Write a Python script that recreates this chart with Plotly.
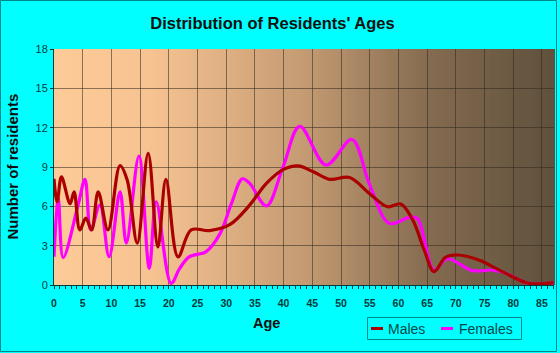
import plotly.graph_objects as go

# ---- data ----
male_age = [0, 0.55, 1.3, 2.8, 3.5, 4.5, 5.55, 6.55, 7.7, 9.4, 11.5, 12.75, 14.5, 16.4, 18.1,
            19.5, 21.6, 23.9, 27.1, 30.6, 34.0, 37.0, 39.9, 42.5, 45.1, 48.0, 51.5, 54.9,
            58.1, 60.4, 62.5, 64.5, 66.2, 68.2, 70.3, 74.0, 78.1, 82.7, 87.0]
male_val = [8.1, 6.35, 8.25, 6.2, 7.1, 4.2, 5.1, 4.2, 7.1, 4.2, 9.1, 8.0, 3.2, 10.05, 2.9,
            8.05, 2.15, 4.2, 4.15, 4.6, 6.05, 7.75, 8.8, 9.08, 8.65, 8.06, 8.2, 7.0,
            5.97, 6.18, 4.96, 2.67, 1.02, 2.1, 2.29, 1.9, 1.02, 0.13, 0.18]

female_age = [0, 0.75, 1.6, 4.2, 5.4, 6.4, 8.0, 9.6, 11.5, 12.6, 14.8, 16.6, 17.8, 20.4,
              21.9, 23.6, 26.5, 28.9, 30.9, 32.8, 34.1, 37.0, 39.9, 42.8, 47.4, 51.9,
              54.9, 58.4, 61.9, 63.3, 66.2, 68.5, 72.9, 76.4, 78.1, 82.7, 87.0]
female_val = [2.16, 6.6, 2.1, 6.1, 8.06, 4.2, 6.1, 2.16, 7.1, 3.2, 9.84, 1.27, 6.35, 0.13,
              1.27, 2.16, 2.55, 3.9, 6.2, 8.1, 7.75, 6.03, 9.0, 12.1, 9.15, 11.1,
              7.75, 4.7, 5.16, 5.08, 1.14, 2.0, 1.1, 1.14, 1.0, 0.13, 0.18]

series_names = ["Males", "Females"]
series_colors = ["#aa0000", "#ff00ff"]

x_ticks = list(range(0, 90, 5))
y_ticks = [0, 3, 6, 9, 12, 15, 18]

W, H = 560, 353
L, R, T, B = 54, 6, 49, 68
pw, ph = W - L - R, H - T - B

def px(x):
    return (x - L) / pw

def py(y):
    return 1 - (y - T) / ph

BG = "#00ffff"
EDGE = "#008888"
TXT = "#003c3c"
FONT = "Liberation Sans, Arial"

fig = go.Figure()
fig.add_trace(go.Scatter(x=female_age, y=female_val, name=series_names[1], mode="lines",
                         line=dict(color=series_colors[1], width=3.2, shape="spline", smoothing=1.0),
                         hoverinfo="skip", showlegend=False))
fig.add_trace(go.Scatter(x=male_age, y=male_val, name=series_names[0], mode="lines",
                         line=dict(color=series_colors[0], width=3.2, shape="spline", smoothing=1.0),
                         hoverinfo="skip", showlegend=False))

# gradient background (below gridlines)
stops = [(0.0, (253, 203, 152)), (0.2, (246, 194, 145)), (0.5, (196, 155, 115)),
         (0.75, (132, 107, 80)), (1.0, (95, 80, 60))]

def col(t):
    for (a, ca), (b, cb) in zip(stops[:-1], stops[1:]):
        if t <= b:
            f = (t - a) / (b - a)
            return "rgb(%d,%d,%d)" % tuple(round(ca[i] + (cb[i] - ca[i]) * f) for i in range(3))
    return "rgb(%d,%d,%d)" % stops[-1][1]

shapes = []
n = 125
for i in range(n):
    shapes.append(dict(type="rect", xref="paper", yref="paper", x0=i / n, x1=(i + 1) / n + 0.002,
                       y0=0, y1=1, fillcolor=col((i + 0.5) / n), line=dict(width=0), layer="below"))
# outer border
shapes.append(dict(type="rect", xref="paper", yref="paper",
                   x0=px(0.5), x1=px(W - 3.5), y0=py(H - 1.5), y1=py(0.5),
                   line=dict(color=EDGE, width=1), fillcolor="rgba(0,0,0,0)", layer="below"))

# manual legend
shapes.append(dict(type="rect", xref="paper", yref="paper",
                   x0=px(367.5), x1=px(521.5), y0=py(339.5), y1=py(317.5),
                   line=dict(color=EDGE, width=1), fillcolor="rgba(0,0,0,0)", layer="above"))
leg_line_x = [(371, 383), (441, 453)]
leg_text_x = [386, 457]
annotations = []
for name, c, (a, b), tx in zip(series_names, series_colors, leg_line_x, leg_text_x):
    shapes.append(dict(type="line", xref="paper", yref="paper", x0=px(a), x1=px(b),
                       y0=py(328.5), y1=py(328.5), line=dict(color=c, width=3), layer="above"))
    annotations.append(dict(text=name, xref="paper", yref="paper", x=px(tx), y=py(328.5),
                            xanchor="left", yanchor="middle", showarrow=False,
                            font=dict(family=FONT, size=14, color="#004848")))

# axis titles
annotations.append(dict(text="<b>Age</b>", xref="paper", yref="paper", x=px(266.5), y=py(323),
                        xanchor="center", yanchor="middle", showarrow=False,
                        font=dict(family=FONT, size=14.5, color="#101010")))
annotations.append(dict(text="<b>Number of residents</b>", xref="paper", yref="paper",
                        x=px(12), y=py(166.5), xanchor="center", yanchor="middle",
                        showarrow=False, textangle=-90,
                        font=dict(family=FONT, size=15, color="#101010")))

fig.update_layout(
    width=W, height=H, margin=dict(l=L, r=R, t=T, b=B),
    paper_bgcolor=BG, plot_bgcolor=BG,
    shapes=shapes, annotations=annotations,
    title=dict(text="<b>Distribution of Residents' Ages</b>", x=px(272.5), xref="paper",
               xanchor="center", y=1 - 23 / H, yanchor="middle",
               font=dict(family=FONT, size=16.5, color="#101010")),
    showlegend=False,
    xaxis=dict(range=[0, 87.1], tickvals=x_ticks, ticktext=["<b>%d</b>" % v for v in x_ticks],
               showgrid=True, gridcolor="rgba(50,40,30,0.55)", gridwidth=1,
               zeroline=False, showline=True, linecolor="#003c3c", linewidth=1,
               ticks="outside", ticklen=3, tickcolor="#003c3c", ticklabelstandoff=5,
               minor=dict(dtick=1, ticks="outside", ticklen=3, tickcolor="#003c3c", showgrid=False),
               tickfont=dict(family=FONT, size=10.5, color=TXT)),
    yaxis=dict(range=[0, 18], tickvals=y_ticks,
               showgrid=True, gridcolor="rgba(50,40,30,0.55)", gridwidth=1,
               zeroline=False, showline=True, linecolor="#003c3c", linewidth=1,
               ticks="outside", ticklen=3, tickcolor="#003c3c",
               tickfont=dict(family=FONT, size=11, color=TXT)),
)

fig.write_html("out.html", include_plotlyjs=True, config={"displayModeBar": False})
